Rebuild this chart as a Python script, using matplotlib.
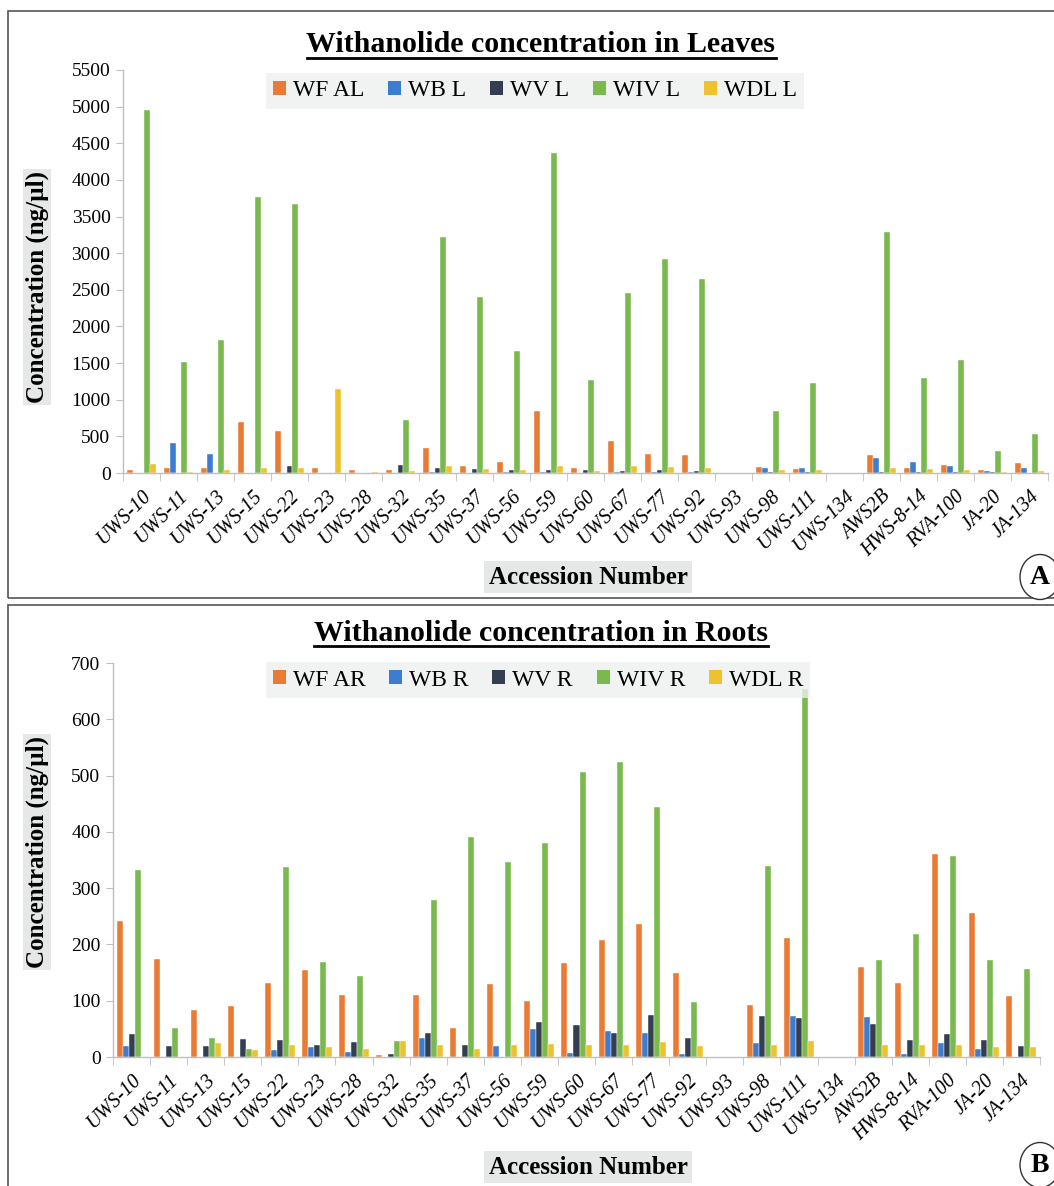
import matplotlib
matplotlib.use("Agg")
import matplotlib.pyplot as plt
import numpy as np
from matplotlib.patches import Rectangle, Circle, Patch
from matplotlib.lines import Line2D

plt.rcParams['font.family'] = ['Liberation Serif', 'DejaVu Serif']

categories = ['UWS-10', 'UWS-11', 'UWS-13', 'UWS-15', 'UWS-22', 'UWS-23', 'UWS-28',
              'UWS-32', 'UWS-35', 'UWS-37', 'UWS-56', 'UWS-59', 'UWS-60', 'UWS-67',
              'UWS-77', 'UWS-92', 'UWS-93', 'UWS-98', 'UWS-111', 'UWS-134', 'AWS2B',
              'HWS-8-14', 'RVA-100', 'JA-20', 'JA-134']

# Leaves (ng/µl)
leaf_names = ['WF AL', 'WB L', 'WV L', 'WIV L', 'WDL L']
WF_AL = [45, 73, 68, 690, 568, 68, 41, 41, 341, 95, 145, 840, 62, 430, 260, 241, 0, 82, 50, 0, 250, 68, 105, 41, 136]
WB_L = [0, 409, 255, 0, 0, 0, 0, 0, 10, 0, 12, 12, 0, 12, 10, 12, 0, 64, 64, 0, 205, 145, 95, 27, 64]
WV_L = [0, 0, 0, 0, 95, 0, 0, 105, 68, 50, 36, 36, 45, 27, 41, 27, 0, 18, 14, 0, 12, 12, 12, 14, 0]
WIV_L = [4950, 1510, 1815, 3765, 3665, 0, 0, 725, 3220, 2400, 1665, 4370, 1265, 2450, 2920, 2650, 0, 850, 1235, 0, 3290, 1300, 1545, 305, 536]
WDL_L = [127, 14, 36, 68, 68, 1140, 18, 27, 100, 59, 45, 100, 30, 91, 82, 68, 0, 36, 36, 0, 73, 50, 45, 18, 27]

# Roots (ng/µl)
root_names = ['WF AR', 'WB R', 'WV R', 'WIV R', 'WDL R']
WF_AR = [241, 175, 84, 91, 132, 154, 111, 4, 111, 52, 130, 99, 167, 207, 236, 150, 0, 92, 211, 0, 160, 131, 361, 256, 109]
WB_R = [20, 0, 0, 0, 12, 17, 9, 0, 33, 0, 20, 50, 7, 46, 43, 5, 0, 24, 73, 0, 71, 5, 24, 15, 0]
WV_R = [40, 20, 20, 32, 31, 21, 27, 6, 43, 21, 0, 63, 57, 43, 74, 33, 0, 72, 69, 0, 59, 30, 40, 31, 20]
WIV_R = [333, 52, 33, 15, 337, 169, 144, 28, 279, 390, 346, 381, 506, 524, 444, 98, 0, 339, 654, 0, 172, 219, 357, 173, 156]
WDL_R = [0, 0, 24, 12, 21, 17, 15, 28, 21, 15, 21, 23, 22, 21, 26, 20, 0, 22, 29, 0, 21, 21, 21, 17, 17]

colors = ['#E97B35', '#3C7DD1', '#333F50', '#7AB94E', '#EEC12F']

W, H = 1054, 1186
fig = plt.figure(figsize=(W / 100, H / 100), dpi=100)


def px_axes(x0, x1, ytop, ybot):
    return fig.add_axes([x0 / W, 1 - ybot / H, (x1 - x0) / W, (ybot - ytop) / H])


def draw_panel(ax, series, names, ymax, ystep, title, title_y, leg_center, ylab_y, letter, xlab_y, circ_c):
    n = len(categories)
    x = np.arange(n)
    bw = 0.162
    for k, (vals, nm) in enumerate(zip(series, names)):
        ax.bar(x + (k - 2) * bw, vals, width=bw, color=colors[k], label=nm,
               edgecolor='white', linewidth=0.3)
    ax.set_xlim(-0.5, n - 0.5)
    ax.set_ylim(0, ymax)
    ax.set_yticks(np.arange(0, ymax + 1, ystep))
    ax.set_yticklabels([str(v) for v in np.arange(0, ymax + 1, ystep)], fontsize=14)
    ax.set_xticks(x)
    ax.set_xticklabels(categories, rotation=45, ha='right', va='top',
                       rotation_mode='anchor', fontsize=14.5, style='italic')
    ax.set_xticks(np.arange(-0.5, n, 1), minor=True)
    ax.tick_params(axis='x', which='major', length=0, pad=10)
    ax.tick_params(axis='x', which='minor', length=6, color='#BFBFBF', direction='out')
    ax.tick_params(axis='y', length=5, color='#BFBFBF', direction='out', pad=4)
    for s in ['top', 'right']:
        ax.spines[s].set_visible(False)
    for s in ['left', 'bottom']:
        ax.spines[s].set_color('#BFBFBF')
        ax.spines[s].set_linewidth(1.0)

    handles = [Patch(facecolor=colors[k], edgecolor='none') for k in range(5)]
    leg = fig.legend(handles, names, loc='center', ncol=5,
                     bbox_to_anchor=(leg_center[0] / W, 1 - leg_center[1] / H),
                     fontsize=17, frameon=True, fancybox=False,
                     handlelength=0.55, handleheight=0.55, handletextpad=0.3,
                     columnspacing=1.0, borderpad=0.3, borderaxespad=0)
    leg.get_frame().set_facecolor('#EEEFEF')
    leg.get_frame().set_edgecolor('none')

    t = fig.text(541 / W, 1 - title_y / H, title, ha='center', va='center',
                 fontsize=21.5, fontweight='bold')
    fig.text(37 / W, 1 - ylab_y / H, 'Concentration (ng/µl)', rotation=90,
             ha='center', va='center', fontsize=18, fontweight='bold',
             bbox=dict(facecolor='#E6E7E7', edgecolor='none', pad=1.5))
    fig.text(588 / W, 1 - xlab_y / H, 'Accession Number', ha='center', va='center',
             fontsize=18, fontweight='bold',
             bbox=dict(facecolor='#E6E7E7', edgecolor='none', pad=3))
    circ = Circle((circ_c[0] / W, 1 - circ_c[1] / H), 20 / W, transform=fig.transFigure,
                  facecolor='white', edgecolor='#333333', linewidth=1.0)
    fig.patches.append(circ)
    fig.text(circ_c[0] / W, 1 - circ_c[1] / H, letter, ha='center', va='center',
             fontsize=20, fontweight='bold')
    return t


# outer boxes
fig.patches.append(Rectangle((8 / W, 1 - 598 / H), 1.0, 587 / H, transform=fig.transFigure,
                             facecolor='none', edgecolor='#555555', linewidth=1.2))
fig.patches.append(Rectangle((8 / W, -0.05), 1.0, (1 - 605 / H) + 0.05, transform=fig.transFigure,
                             facecolor='none', edgecolor='#555555', linewidth=1.2))

axA = px_axes(123, 1048, 70, 473)
tA = draw_panel(axA, [WF_AL, WB_L, WV_L, WIV_L, WDL_L], leaf_names, 5500, 500,
                'Withanolide concentration in Leaves', 45, (535, 91), 287, 'A', 577, (1040, 577))

axB = px_axes(113, 1040, 663, 1057)
tB = draw_panel(axB, [WF_AR, WB_R, WV_R, WIV_R, WDL_R], root_names, 700, 100,
                'Withanolide concentration in Roots', 634, (538, 680), 852, 'B', 1167, (1040, 1165))

fig.canvas.draw()
r = fig.canvas.get_renderer()
for t in (tA, tB):
    bb = t.get_window_extent(renderer=r)
    yline = (bb.y0 + 1) / H
    fig.lines.append(Line2D([bb.x0 / W, bb.x1 / W], [yline, yline], transform=fig.transFigure,
                            color='black', linewidth=2.0))

fig.savefig('out.png', dpi=100)
